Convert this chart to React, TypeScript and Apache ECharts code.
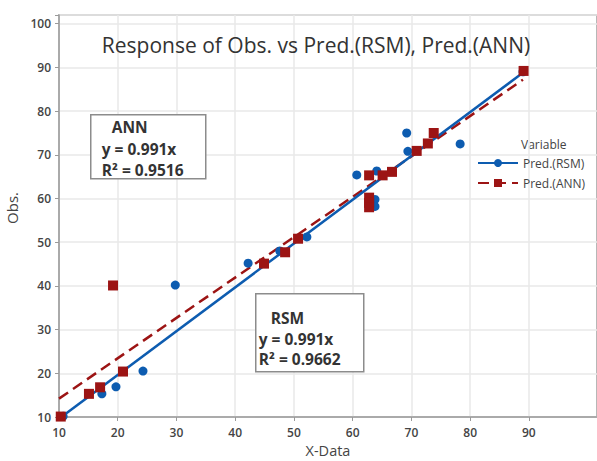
import React, { useEffect, useRef } from "react";
import * as echarts from "echarts";

const titleText = "Response of Obs. vs Pred.(RSM), Pred.(ANN)";
const xTicks = [10, 20, 30, 40, 50, 60, 70, 80, 90];

const rsmX = [10.7, 17.3, 19.7, 24.3, 29.8, 42.2, 47.6, 52.2, 60.7, 64.1, 63.8, 63.8, 69.2, 69.4, 78.3, 89.0];
const rsmY = [10.2, 15.3, 16.9, 20.5, 40.2, 45.2, 48.0, 51.2, 65.4, 66.3, 59.8, 58.2, 75.0, 70.8, 72.5, 89.0];

const annX = [10.3, 15.1, 17.0, 20.9, 19.2, 44.9, 48.5, 50.7, 62.8, 65.1, 66.7, 62.8, 62.8, 62.8, 70.9, 72.8, 73.8, 89.1];
const annY = [10.1, 15.3, 16.8, 20.4, 40.1, 45.1, 47.7, 50.8, 65.3, 65.3, 66.1, 60.2, 59.0, 58.0, 70.9, 72.6, 75.0, 89.2];

const rsmFitX = [10.4, 89.2];
const rsmFitY = [10.0, 89.0];
const annFitX = [10.0, 89.0];
const annFitY = [14.2, 87.2];

const annBoxLines = ["ANN", "y = 0.991x", "R\u00B2 = 0.9516"];
const rsmBoxLines = ["RSM", "y = 0.991x", "R\u00B2 = 0.9662"];

const BLUE = "#0d5cb0";
const RED = "#9c1414";
const FONT = "'Open Sans', 'Noto Sans', sans-serif";

const zip = (xs: number[], ys: number[]) => xs.map((x, i) => [x, ys[i]]);

export default function App() {
  const ref = useRef<HTMLDivElement>(null);
  useEffect(() => {
    if (!ref.current) return;
    const chart = echarts.init(ref.current, null, { renderer: "svg" });
    const fitData = (xs: number[], ys: number[]) =>
      xs.map((x, i) => ({ value: [x, ys[i]], symbol: "none" }));
    const box = (
      x: number, y: number, w: number, h: number, lines: string[],
      lineX: number, headX: number, ys: number[]
    ) => ({
      type: "group",
      left: x,
      top: y,
      z: 100,
      children: [
        { type: "rect", z: 100, shape: { x: 0, y: 0, width: w, height: h }, style: { fill: "#fff", stroke: "#8c8c8c", lineWidth: 1.5 } },
        { type: "text", z: 101, x: headX, y: ys[0], style: { text: lines[0], font: `bold 15.5px ${FONT}`, fill: "#333", verticalAlign: "middle" } },
        { type: "text", z: 101, x: lineX, y: ys[1], style: { text: lines[1], font: `bold 15.5px ${FONT}`, fill: "#333", verticalAlign: "middle" } },
        { type: "text", z: 101, x: lineX, y: ys[2], style: { text: lines[2], font: `bold 15.5px ${FONT}`, fill: "#333", verticalAlign: "middle" } },
      ],
    });
    chart.setOption({
      animation: false,
      backgroundColor: "#fff",
      title: {
        text: titleText,
        left: 311,
        textAlign: "center",
        top: 29,
        textStyle: { fontFamily: FONT, fontSize: 21, fontWeight: "normal", color: "#333" },
      },
      grid: {
        left: 59, top: 15, right: 0, bottom: 44,
        containLabel: false, outerBoundsMode: "none",
        show: true, borderColor: "#a0a0a0", borderWidth: 1.5,
      },
      xAxis: {
        type: "value",
        min: 10,
        max: 101.6,
        interval: 10,
        name: "X-Data",
        nameLocation: "middle",
        nameGap: 26,
        nameTextStyle: { fontFamily: FONT, fontSize: 14.5, color: "#444" },
        axisLine: { lineStyle: { color: "#9a9a9a", width: 1.5 } },
        axisTick: { show: true, length: 4, customValues: xTicks, lineStyle: { color: "#9a9a9a" } },
        axisLabel: { customValues: xTicks, fontFamily: FONT, fontSize: 12, fontWeight: 600, color: "#444", margin: 9 },
        splitLine: { show: true, lineStyle: { color: "#e8e8e8", width: 1.5 } },
      },
      yAxis: {
        type: "value",
        min: 10,
        max: 102,
        interval: 10,
        name: "Obs.",
        nameLocation: "middle",
        nameGap: 38,
        nameTextStyle: { fontFamily: FONT, fontSize: 15, color: "#444", padding: [0, 0, 0, 16] },
        axisLine: { show: true, lineStyle: { color: "#9a9a9a", width: 1.5 } },
        axisTick: { show: true, length: 4, lineStyle: { color: "#9a9a9a" } },
        axisLabel: {
          fontFamily: FONT, fontSize: 12, fontWeight: 600, color: "#444", margin: 8,
          formatter: (v: number) => (v > 100 ? "" : String(v)),
        },
        splitLine: { show: true, lineStyle: { color: "#e8e8e8", width: 1.5 } },
      },
      legend: {
        orient: "vertical",
        left: 472,
        top: 152,
        itemWidth: 40,
        itemHeight: 10,
        itemGap: 8,
        data: ["Pred.(RSM)", "Pred.(ANN)"],
        textStyle: { fontFamily: FONT, fontSize: 12, color: "#444" },
      },
      graphic: [
        { type: "text", left: 521, top: 138, style: { text: "Variable", font: `12px ${FONT}`, fill: "#444" } },
        box(90, 114, 115, 64, annBoxLines, 11, 21, [12, 34, 55]),
        box(255, 293, 108, 78, rsmBoxLines, 3, 15, [24, 45, 65]),
      ],
      series: [
        {
          name: "Pred.(ANN)",
          type: "line",
          data: fitData(annFitX, annFitY),
          symbol: "rect",
          symbolSize: 10,
          itemStyle: { color: RED, opacity: 1 },
          lineStyle: { color: RED, width: 2.5, type: [11, 6] },
          z: 2,
        },
        {
          name: "Pred.(RSM)",
          type: "line",
          data: fitData(rsmFitX, rsmFitY),
          symbol: "circle",
          symbolSize: 9,
          itemStyle: { color: BLUE, opacity: 1 },
          lineStyle: { color: BLUE, width: 2.5 },
          z: 3,
        },
        {
          name: "rsmPts",
          type: "scatter",
          data: zip(rsmX, rsmY),
          symbol: "circle",
          symbolSize: 9,
          itemStyle: { color: BLUE, opacity: 1 },
          z: 4,
        },
        {
          name: "annPts",
          type: "scatter",
          data: zip(annX, annY),
          symbol: "rect",
          symbolSize: 10,
          itemStyle: { color: RED, opacity: 1 },
          z: 5,
        },
      ],
    });
    return () => chart.dispose();
  }, []);
  return <div ref={ref} style={{ position: "fixed", left: 0, top: 0, width: 597, height: 461 }} />;
}
